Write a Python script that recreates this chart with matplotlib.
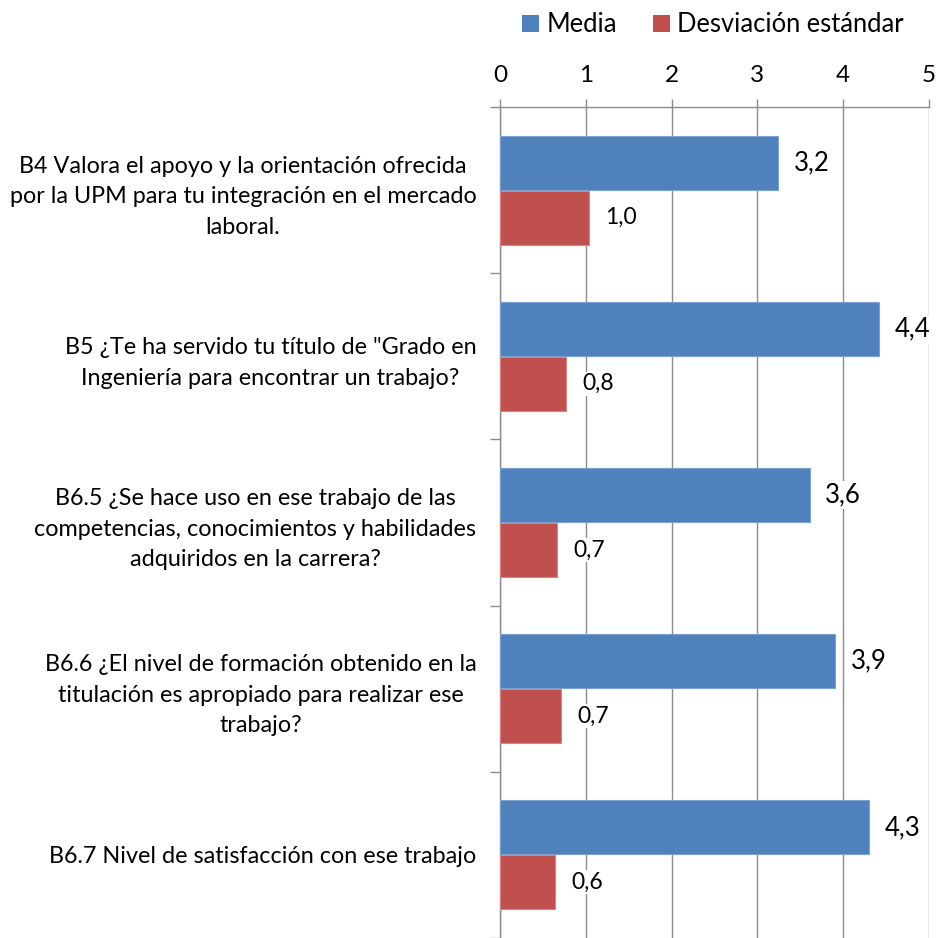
import matplotlib
matplotlib.use("Agg")
import matplotlib.pyplot as plt
from matplotlib.patches import Patch
import numpy as np

plt.rcParams['font.family'] = ['Lato', 'DejaVu Sans']

categories = [
    "B4 Valora el apoyo y la orientación ofrecida\npor la UPM para tu integración en el mercado\nlaboral.",
    "B5 ¿Te ha servido tu título de \"Grado en\nIngeniería para encontrar un trabajo?",
    "B6.5 ¿Se hace uso en ese trabajo de las\ncompetencias, conocimientos y habilidades\nadquiridos en la carrera?",
    "B6.6 ¿El nivel de formación obtenido en la\ntitulación es apropiado para realizar ese\ntrabajo?",
    "B6.7 Nivel de satisfacción con ese trabajo",
]
media = [3.24, 4.42, 3.61, 3.91, 4.30]
desviacion = [1.04, 0.77, 0.67, 0.71, 0.64]
series_names = ["Media", "Desviación estándar"]
x_ticks = [0, 1, 2, 3, 4, 5]

blue = "#4F81BD"
red = "#C0504D"
grid_c = "#8C8C8C"

W = H = 938
fig = plt.figure(figsize=(W / 100, H / 100), dpi=100)
ax = fig.add_axes([500 / W, 0 / H, 429 / W, 831 / H])

y = np.arange(len(categories))
h = 0.325
off = 0.165
ax.barh(y - off, media, height=h, color=blue, edgecolor="#7DA1CF", linewidth=0.8, zorder=3)
ax.barh(y + off, desviacion, height=h, color=red, edgecolor="#D88482", linewidth=0.8, zorder=3)

for yi, v in zip(y, media):
    ax.text(v + 0.18, yi - off, f"{v:.1f}".replace(".", ","), va="center", ha="left",
            fontsize=18.5, color="#000000", zorder=4,
            bbox=dict(facecolor="white", edgecolor="none", pad=1))
for yi, v in zip(y, desviacion):
    ax.text(v + 0.19, yi + off, f"{v:.1f}".replace(".", ","), va="center", ha="left",
            fontsize=16.5, color="#000000", zorder=4,
            bbox=dict(facecolor="white", edgecolor="none", pad=1))

ax.set_xlim(0, 5)
ax.set_ylim(len(categories) - 0.5, -0.5)
ax.xaxis.tick_top()
ax.set_xticks(x_ticks)
ax.set_xticklabels([str(t) for t in x_ticks], fontsize=17.5, color="#000000")
ax.tick_params(axis="x", direction="out", length=6, color=grid_c, pad=9, width=1)
ax.grid(axis="x", color=grid_c, linewidth=1, zorder=0)

ax.set_yticks(y)
ax.set_yticklabels(categories, fontsize=16.8, multialignment="center", linespacing=1.56)
ax.tick_params(axis="y", which="major", length=0, pad=17)
ax.set_yticks(np.arange(-0.5, len(categories), 1.0), minor=True)
ax.tick_params(axis="y", which="minor", length=7, color=grid_c, direction="out", width=1)

for s in ["right", "bottom"]:
    ax.spines[s].set_visible(False)
for s in ["top", "left"]:
    ax.spines[s].set_color(grid_c)
    ax.spines[s].set_linewidth(1)

handles = [Patch(facecolor=blue, edgecolor="none"), Patch(facecolor=red, edgecolor="none")]
fig.legend(handles, series_names, loc="center", bbox_to_anchor=(713 / W, 1 - 25 / H),
           ncol=2, frameon=False, fontsize=18.4, handlelength=0.65, handleheight=0.65,
           handletextpad=0.3, columnspacing=1.4)

fig.savefig("out.png", dpi=100)
